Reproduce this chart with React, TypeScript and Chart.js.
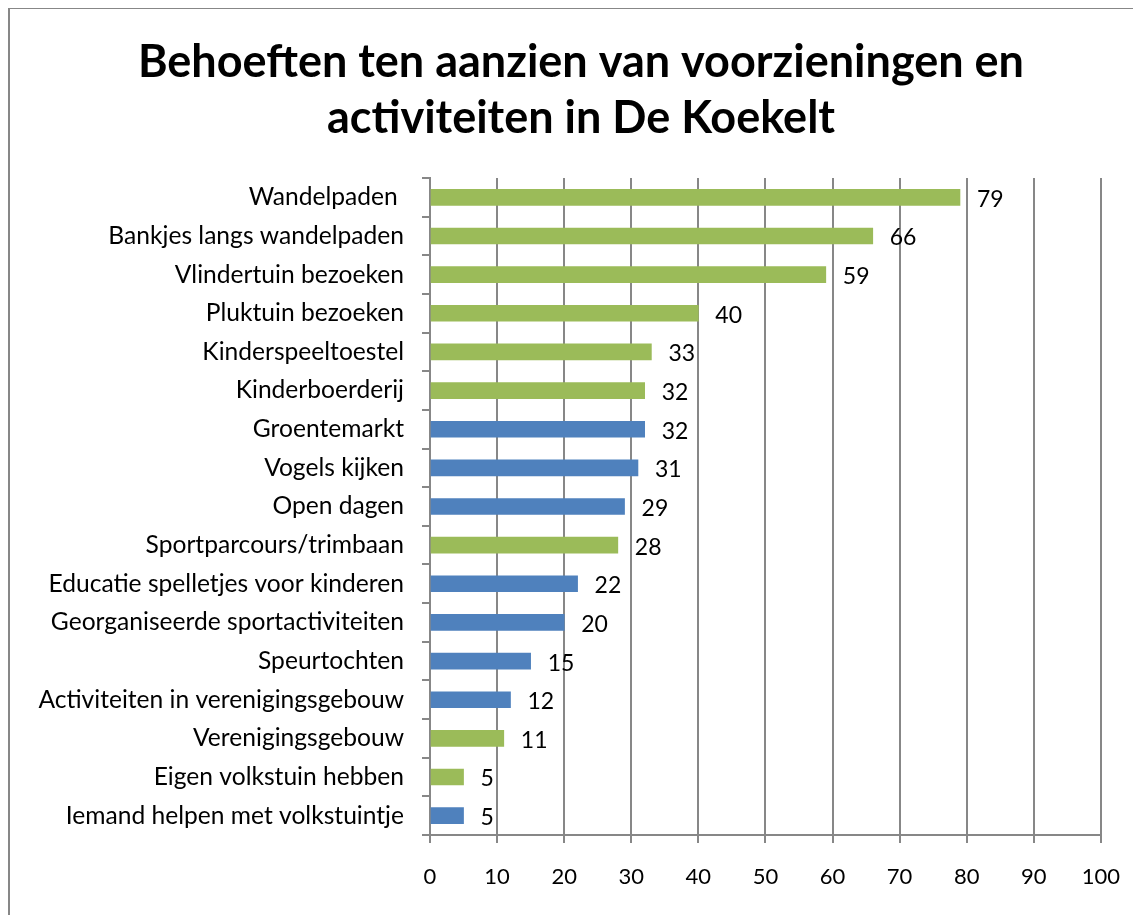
import React, { useEffect, useRef } from "react";
import { Chart, registerables } from "chart.js";

Chart.register(...registerables);

const titleLines = ["Behoeften ten aanzien van voorzieningen en", "activiteiten in De Koekelt"];

const categories = [
  "Wandelpaden ",
  "Bankjes langs wandelpaden",
  "Vlindertuin bezoeken",
  "Pluktuin bezoeken",
  "Kinderspeeltoestel",
  "Kinderboerderij",
  "Groentemarkt",
  "Vogels kijken",
  "Open dagen",
  "Sportparcours/trimbaan",
  "Educatie spelletjes voor kinderen",
  "Georganiseerde sportactiviteiten",
  "Speurtochten",
  "Activiteiten in verenigingsgebouw",
  "Verenigingsgebouw",
  "Eigen volkstuin hebben",
  "Iemand helpen met volkstuintje",
];

const values = [79, 66, 59, 40, 33, 32, 32, 31, 29, 28, 22, 20, 15, 12, 11, 5, 5];

// "g" = green bar, "b" = blue bar
const groups = ["g", "g", "g", "g", "g", "g", "b", "b", "b", "g", "b", "b", "b", "b", "g", "g", "b"];

const xTicks = [0, 10, 20, 30, 40, 50, 60, 70, 80, 90, 100];

const GREEN = "#9BBB59";
const BLUE = "#4F81BD";
const GRID = "#878787";
const FONT = "Lato";

const valueLabels = {
  id: "valueLabels",
  afterDatasetsDraw(chart: any) {
    const ctx = chart.ctx;
    const meta = chart.getDatasetMeta(0);
    ctx.save();
    ctx.font = `23px ${FONT}`;
    ctx.fillStyle = "#000";
    ctx.textAlign = "left";
    ctx.textBaseline = "middle";
    meta.data.forEach((bar: any, i: number) => {
      ctx.fillText(String(chart.data.datasets[0].data[i]), bar.x + 17, bar.y + 2);
    });
    ctx.restore();
  },
};

// Two-line title centred over the chart box (Excel-style, not over the plot area)
const centredTitle = {
  id: "centredTitle",
  afterDraw(chart: any) {
    const ctx = chart.ctx;
    ctx.save();
    ctx.font = `bold 45px ${FONT}`;
    ctx.fillStyle = "#000";
    ctx.textAlign = "center";
    ctx.textBaseline = "middle";
    const cx = 573;
    titleLines.forEach((line, i) => {
      ctx.fillText(line, cx, 54 + i * 56);
    });
    ctx.restore();
  },
};

export default function App() {
  const ref = useRef<HTMLCanvasElement>(null);

  useEffect(() => {
    if (!ref.current) return;
    const chart = new Chart(ref.current, {
      type: "bar",
      data: {
        labels: categories,
        datasets: [
          {
            data: values,
            backgroundColor: groups.map((g) => (g === "g" ? GREEN : BLUE)),
            barThickness: 16,
          },
        ],
      },
      options: {
        indexAxis: "y",
        animation: false,
        responsive: false,
        maintainAspectRatio: false,
        layout: { padding: { left: 13, right: 37, top: 170, bottom: 0 } },
        plugins: {
          legend: { display: false },
          tooltip: { enabled: false },
          title: { display: false },
        },
        scales: {
          x: {
            type: "linear",
            min: 0,
            max: 100,
            afterBuildTicks: (scale: any) => {
              scale.ticks = xTicks.map((v) => ({ value: v }));
            },
            afterFit: (scale: any) => {
              scale.height = 80;
            },
            grid: { color: GRID, lineWidth: 2, tickLength: 8, drawTicks: true },
            border: { display: true, color: GRID, width: 2 },
            ticks: {
              color: "#000",
              font: { family: FONT, size: 22 },
              padding: 21,
              maxRotation: 0,
            },
          },
          y: {
            type: "category",
            afterFit: (scale: any) => {
              scale.width = 409;
            },
            grid: { drawOnChartArea: false, color: GRID, lineWidth: 2, tickLength: 8, offset: true },
            border: { display: true, color: GRID, width: 2 },
            ticks: {
              color: "#000",
              font: { family: FONT, size: 24.6 },
              padding: 18,
              autoSkip: false,
            },
          },
        },
      },
      plugins: [valueLabels, centredTitle],
    });
    return () => chart.destroy();
  }, []);

  return (
    <div style={{ position: "relative", width: 1133, height: 907, overflow: "hidden" }}>
      <div
        style={{
          position: "absolute",
          left: 0,
          top: -1,
          width: 1300,
          height: 1000,
          border: `2px solid ${GRID}`,
          boxSizing: "border-box",
        }}
      />
      <canvas ref={ref} width={1133} height={907} style={{ position: "absolute", left: 0, top: 0 }} />
    </div>
  );
}
